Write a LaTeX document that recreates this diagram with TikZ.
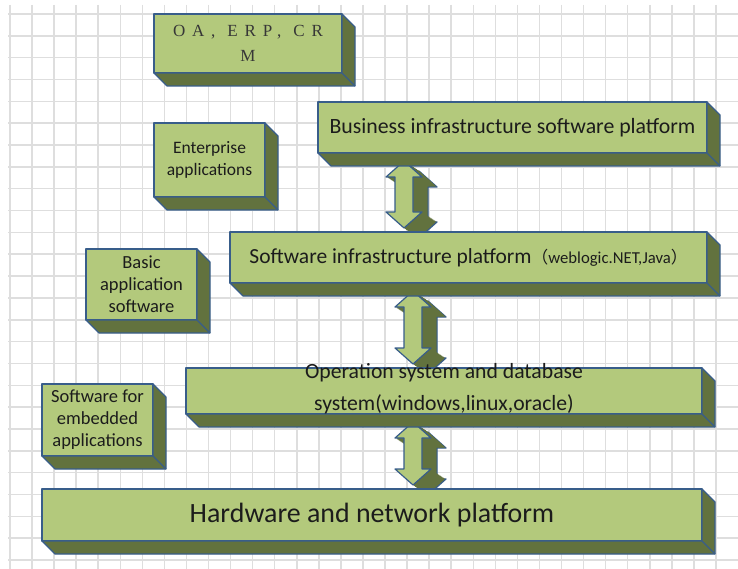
\documentclass[tikz,border=0pt]{standalone}
\usepackage{fontspec}
\setmainfont{Carlito}
\newfontfamily\oafont[LetterSpace=40]{Liberation Serif}
\newfontfamily\cjk{Noto Sans CJK SC}
\usetikzlibrary{calc,backgrounds}

\definecolor{facegreen}{RGB}{179,201,124}
\definecolor{sidegreen}{RGB}{98,114,62}
\definecolor{edgeblue}{RGB}{56,93,138}
\definecolor{inkgray}{RGB}{28,28,28}
\definecolor{oagray}{RGB}{55,55,55}
\definecolor{gridgray}{RGB}{222,222,222}

\tikzset{
	blueline/.style={draw=edgeblue, line width=1.2pt, line join=round},
	slabbox/.style={blueline, fill=facegreen, anchor=north west,
		inner sep=2pt, outer sep=0pt, align=center, text=inkgray},
	gridline/.style={draw=gridgray, line width=1.5pt}
}

% side and bottom faces of a box
\newcommand\slabside[1]{%
	\draw[blueline, fill=sidegreen] (#1.north east) -- ++(13,13) -- ($(#1.south east)+(13,13)$)
		-- ($(#1.south west)+(13,13)$) -- (#1.south west) -- (#1.south east) -- cycle;
	\draw[blueline] (#1.south east) -- ++(13,13);
}

% outline of a double arrow, tips at (\arx,\art) and (\arx,\arb)
\newcommand\arrowpath{(\arx,\art) -- (\arx+18pt,\art-16pt) -- (\arx+9pt,\art-16pt)
	-- (\arx+9pt,\arb+16pt) -- (\arx+18pt,\arb+16pt) -- (\arx,\arb)
	-- (\arx-18pt,\arb+16pt) -- (\arx-9pt,\arb+16pt) -- (\arx-9pt,\art-16pt)
	-- (\arx-18pt,\art-16pt) -- cycle}

% 3d double arrow between two boxes at x = #3
\newcommand\dblarrow[3]{%
	\path let \p1=($(#1.south)+(0,8)$), \p2=($(#2.north)+(0,-4)$), \p3=(#3,0) in
		\pgfextra{\xdef\arx{\x3}\xdef\art{\y1}\xdef\arb{\y2}};
	\draw[blueline, fill=sidegreen, shift={(15pt,-10pt)}] \arrowpath;
	\foreach \s in {0.95,0.9,...,0.05}{
		\fill[sidegreen, shift={(\s*15pt,-\s*10pt)}] \arrowpath;
	}
	\draw[blueline, fill=facegreen] \arrowpath;
}

\begin{document}
\begin{tikzpicture}[x=1pt, y=-1pt]
	\useasboundingbox (0,0) rectangle (738,569);

	\node[slabbox, minimum width=188pt, minimum height=59pt,
		font=\oafont\fontsize{17}{25}\selectfont, text=oagray] (oa) at (154,14)
		{OA,\hspace{12pt}ERP,\hspace{12pt}CR\\M};
	\node[slabbox, minimum width=389pt, minimum height=51pt,
		font=\fontsize{21.8}{26}\selectfont] (biz) at (318,102)
		{Business infrastructure software platform};
	\node[slabbox, minimum width=111pt, minimum height=74pt,
		font=\fontsize{17.5}{22}\selectfont] (ent) at (154,123)
		{Enterprise\\applications};
	\node[slabbox, minimum width=477pt, minimum height=51pt,
		font=\fontsize{21.5}{26}\selectfont] (sip) at (230,232)
		{Software infrastructure platform{\fontsize{16.7}{20}\selectfont{\cjk （}weblogic.NET,Java{\cjk ）}}};
	\node[slabbox, minimum width=111pt, minimum height=71pt,
		font=\fontsize{18.5}{22}\selectfont] (bas) at (86,249)
		{Basic\\application\\software};
	\node[slabbox, minimum width=111pt, minimum height=72pt,
		font=\fontsize{18.5}{22}\selectfont] (emb) at (42,384)
		{Software for\\embedded\\applications};
	\node[slabbox, minimum width=516pt, minimum height=46pt] (ops) at (186,368) {};
	\node[slabbox, minimum width=660pt, minimum height=52pt,
		font=\fontsize{27.9}{33}\selectfont] (hw) at (42,489)
		{Hardware and network platform};

	\foreach \b in {oa,biz,ent,sip,bas,emb,ops,hw}{
		\slabside{\b}
	}

	\node[font=\fontsize{21.7}{32}\selectfont, align=center, text=inkgray] (opstext)
		at ($(ops.center)+(0,-2)$)
		{Operation system and database\\system(windows,linux,oracle)};

	\begin{pgfonlayer}{background}
		\fill[white] (0,0) rectangle (738,569);
		\foreach \gx in {0,...,32}
			\draw[gridline] ({10+\gx*22.06},5) -- ({10+\gx*22.06},569);
		\foreach \gy in {0,...,25}
			\draw[gridline] (8,{14+\gy*21.84}) -- (738,{14+\gy*21.84});

		\dblarrow{biz}{sip}{404}
		\dblarrow{sip}{ops}{413}
		\dblarrow{ops}{hw}{413}
	\end{pgfonlayer}
\end{tikzpicture}
\end{document}
